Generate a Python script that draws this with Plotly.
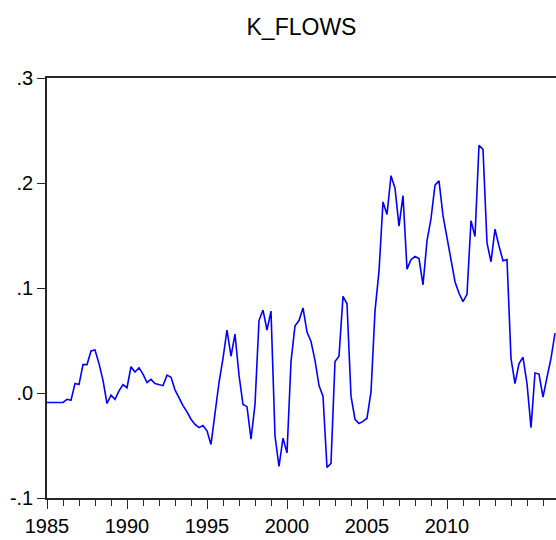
import plotly.graph_objects as go

# ---- data (quarterly) ----
start_year = 1985
periods_per_year = 4

k_flows_1985_1994 = [
    -0.009, -0.009, -0.009, -0.009,
    -0.009, -0.006, -0.007, 0.009,
    0.008, 0.027, 0.027, 0.040,
    0.041, 0.028, 0.012, -0.010,
    -0.002, -0.006, 0.002, 0.008,
    0.005, 0.025, 0.020, 0.024,
    0.018, 0.010, 0.013, 0.009,
    0.008, 0.007, 0.017, 0.015,
    0.003, -0.005, -0.012, -0.018,
    -0.025, -0.030, -0.033, -0.031,
]
k_flows_1995_2004 = [
    -0.036, -0.049, -0.019, 0.010,
    0.033, 0.060, 0.035, 0.056,
    0.017, -0.011, -0.013, -0.044,
    -0.011, 0.069, 0.079, 0.060,
    0.078, -0.041, -0.070, -0.043,
    -0.057, 0.030, 0.064, 0.069,
    0.081, 0.058, 0.049, 0.031,
    0.007, -0.003, -0.071, -0.067,
    0.030, 0.035, 0.092, 0.085,
    -0.003, -0.025, -0.029, -0.027,
]
k_flows_2005_2016 = [
    -0.024, 0.001, 0.078, 0.116,
    0.182, 0.170, 0.207, 0.195,
    0.159, 0.188, 0.118, 0.127,
    0.130, 0.128, 0.103, 0.145,
    0.166, 0.198, 0.202, 0.169,
    0.148, 0.127, 0.106, 0.095,
    0.087, 0.094, 0.164, 0.149,
    0.236, 0.232, 0.143, 0.125,
    0.156, 0.140, 0.126, 0.127,
    0.033, 0.009, 0.028, 0.034,
    0.009, -0.033, 0.019, 0.018,
    -0.004, 0.015, 0.033, 0.057,
]

x_tick_years = [1985, 1990, 1995, 2000, 2005, 2010]
x_tick_labels = ["1985", "1990", "1995", "2000", "2005", "2010"]
y_tick_values = [-0.1, 0.0, 0.1, 0.2, 0.3]
y_tick_labels = ["-.1", ".0", ".1", ".2", ".3"]
title_text = "K_FLOWS"

values = k_flows_1985_1994 + k_flows_1995_2004 + k_flows_2005_2016
dates = [start_year + k / periods_per_year for k in range(len(values))]

FONT = "Liberation Sans Narrow, Arial Narrow, Liberation Sans, Arial, sans-serif"
AXIS = "#262626"

fig = go.Figure(
    go.Scatter(
        x=dates,
        y=values,
        mode="lines",
        line=dict(color="#0000FF", width=1.6),
        hoverinfo="x+y",
    )
)

fig.update_layout(
    width=556,
    height=540,
    margin=dict(l=47, r=0, t=78, b=42, pad=0),
    paper_bgcolor="white",
    plot_bgcolor="white",
    showlegend=False,
    title=dict(
        text=title_text,
        x=0.5,
        xref="paper",
        xanchor="center",
        y=1 - 27 / 540,
        yref="container",
        yanchor="middle",
        font=dict(family=FONT, size=23, color="black"),
    ),
    font=dict(family=FONT, color="black"),
)

fig.update_xaxes(
    range=[1985, 1985 + 509 / 16],
    showline=True,
    linecolor=AXIS,
    linewidth=1.5,
    mirror=True,
    showgrid=False,
    zeroline=False,
    ticks="outside",
    tickvals=x_tick_years,
    ticktext=x_tick_labels,
    ticklen=9,
    tickwidth=1.3,
    tickcolor=AXIS,
    tickfont=dict(family=FONT, size=20, color="black"),
    minor=dict(
        tick0=1985,
        dtick=1,
        ticks="outside",
        ticklen=6,
        tickwidth=1,
        tickcolor=AXIS,
        showgrid=False,
    ),
)

fig.update_yaxes(
    range=[-0.1, 0.3],
    showline=True,
    linecolor=AXIS,
    linewidth=1.5,
    mirror=False,
    showgrid=False,
    zeroline=False,
    ticks="outside",
    tickvals=y_tick_values,
    ticktext=y_tick_labels,
    ticklen=8,
    tickwidth=1.3,
    tickcolor=AXIS,
    tickfont=dict(family=FONT, size=20, color="black"),
)

fig.write_html("out.html")
